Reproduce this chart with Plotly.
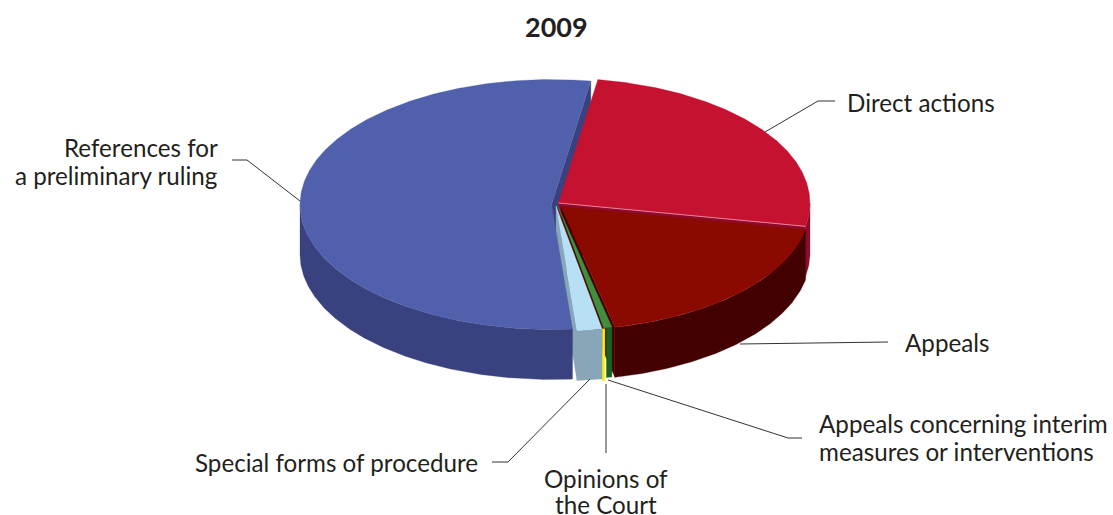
import numpy as np
import plotly.graph_objects as go

# Data (clockwise from the top of the pie)
categories = ["Direct actions", "Appeals", "Appeals concerning interim measures or interventions",
              "Opinions of the Court", "Special forms of procedure", "References for a preliminary ruling"]
values = [143, 104, 2, 1, 9, 302]
top_colors = ["#C41230", "#8B0A00", "#3F8F3C", "#FFF200", "#B8E0F5", "#5160AC"]
wall_colors = ["#8E0B2C", "#430000", "#1A6224", "#FFF200", "#87A6B8", "#39427F"]

# Pie geometry (pixels in a 1113x515 canvas)
START = 81.0
A, B = 251.5, 125.0
DEPTH = 50.0
centres = {0: (558.5, 203), 1: (561, 206.5), 2: (557.5, 205), 3: (556, 206), 4: (556, 206), 5: (551.5, 204.5)}
depths = {3: 52.0}
radius_scale = {1: 0.99}

deg = 360.0 / sum(values)
spans = []
t = START
for v in values:
    spans.append((t, t - v * deg))
    t -= v * deg


def rim(i, tt):
    cx, cy = centres[i]
    s = radius_scale.get(i, 1.0)
    r = np.radians(tt)
    return cx + A * s * np.cos(r), cy - B * s * np.sin(r)


fig = go.Figure()


def poly(x, y, color, name):
    fig.add_trace(go.Scatter(x=list(x), y=list(y), mode="lines", fill="toself", fillcolor=color,
                             line=dict(color=color, width=0.3), hoverinfo="skip", name=name, showlegend=False))


def top(i, end=None):
    a, b = spans[i]
    if end is not None:
        b = end
    tt = np.linspace(a, b, max(4, int(abs(a - b) * 2)))
    x, y = rim(i, tt)
    cx, cy = centres[i]
    poly(np.r_[cx, x, cx], np.r_[cy, y, cy], top_colors[i], categories[i])


def wall(i):
    a, b = spans[i]
    d = depths.get(i, DEPTH)
    # the visible outer wall is the front half, angles between -180 and 0 (mod 360)
    lo, hi = max(b, -180.0), min(a, 0.0)
    if lo >= hi:
        return
    tt = np.linspace(hi, lo, max(4, int((hi - lo) * 2)))
    x, y = rim(i, tt)
    poly(np.r_[x, x[::-1], x[0]], np.r_[y, y[::-1] + d, y[0]], wall_colors[i], categories[i])


def cut(i, angle):
    d = depths.get(i, DEPTH)
    cx, cy = centres[i]
    x, y = rim(i, angle)
    poly([cx, x, x, cx, cx], [cy, y, y + d, cy + d, cy], wall_colors[i], categories[i])


def edge(i, angle, color):
    cx, cy = centres[i]
    x, y = rim(i, angle)
    fig.add_trace(go.Scatter(x=[cx, x], y=[cy, y], mode="lines", line=dict(color=color, width=1),
                             hoverinfo="skip", showlegend=False))


# Painter's order, back to front
cut(5, spans[5][1])
wall(0)
cut(0, spans[0][1])
top(0)
edge(0, spans[0][1], "#E8809A")
cut(1, spans[1][1])
wall(1)
top(1)
wall(2)
wall(3)
top(2, end=spans[3][1])
cut(4, spans[4][1])
wall(4); top(4)
wall(5); top(5)

# Leader lines
leaders = [
    [(232, 160), (247, 160), (300, 201)],
    [(835, 101), (818, 101), (765, 132)],
    [(888, 342), (740, 344)],
    [(802, 438), (788, 438), (608, 380)],
    [(606, 384), (606, 453)],
    [(492, 462), (508, 462), (590, 379)],
]
shapes = []
for pts in leaders:
    path = "M " + " L ".join(f"{px},{py}" for px, py in pts)
    shapes.append(dict(type="path", path=path, xref="x", yref="y", line=dict(color="#333333", width=1)))

FONT = "Lato"
SIZE = 24.2
INK = "#231F20"
labels = [
    ("References for", 220, 147, "right"),
    ("a preliminary ruling", 220, 175, "right"),
    ("Direct actions", 845, 102, "left"),
    ("Appeals", 903, 342, "left"),
    ("Appeals concerning interim", 817, 423, "left"),
    ("measures or interventions", 817, 451, "left"),
    ("Opinions of", 606, 478, "center"),
    ("the Court", 606, 504.5, "center"),
    ("Special forms of procedure", 480, 462, "right"),
]
annotations = [dict(text=txt, x=x, y=y, xref="x", yref="y", xanchor=anc, yanchor="middle", showarrow=False,
                    font=dict(family=FONT, size=SIZE, color=INK)) for txt, x, y, anc in labels]
annotations.append(dict(text="<b>2009</b>", x=556, y=26.5, xref="x", yref="y", xanchor="center", yanchor="middle",
                        showarrow=False, font=dict(family=FONT, size=27, color=INK)))

fig.update_layout(
    width=1113, height=515, margin=dict(l=0, r=0, t=0, b=0),
    paper_bgcolor="white", plot_bgcolor="white", showlegend=False,
    xaxis=dict(range=[0, 1113], visible=False, fixedrange=True),
    yaxis=dict(range=[515, 0], visible=False, fixedrange=True),
    shapes=shapes, annotations=annotations,
)
fig.write_html("out.html", config=dict(displayModeBar=False),
               post_script="document.body.style.margin='0';document.documentElement.style.overflow='hidden';")
